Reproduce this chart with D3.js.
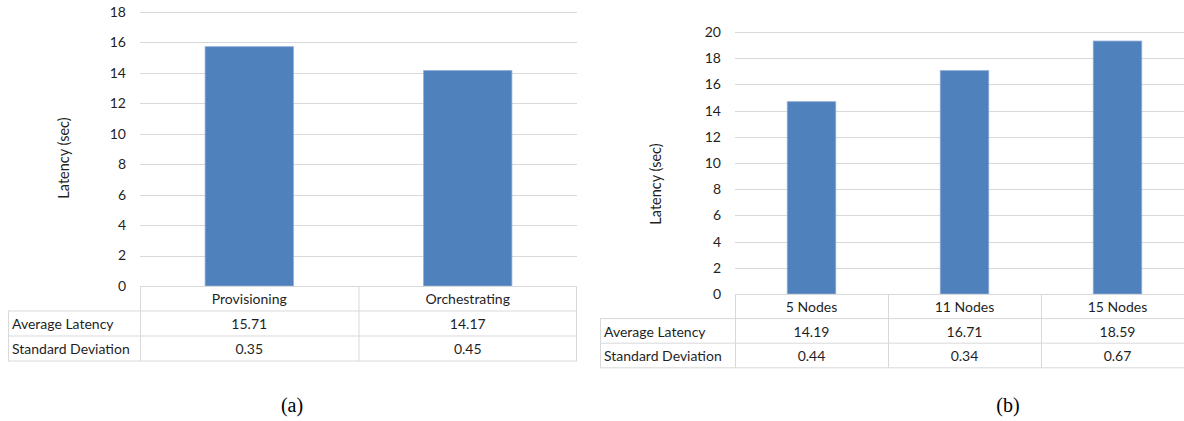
<!DOCTYPE html>
<html>
<head>
<meta charset="utf-8">
<script src="https://cdn.jsdelivr.net/npm/d3@7"></script>
<style>
  body { margin: 0; background: #fff; }
  svg { display: block; }
  text { font-family: Lato, "Open Sans", sans-serif; fill: #1f1f1f; }
</style>
</head>
<body>
<div id="chart"></div>
<script>
var WIDTH = 1184;
var HEIGHT = 421;

// panel (a)
var catsA = ["Provisioning", "Orchestrating"];
var barsA = [15.72, 14.15];
var avgA = ["15.71", "14.17"];
var stdA = ["0.35", "0.45"];
var ticksA = [0, 2, 4, 6, 8, 10, 12, 14, 16, 18];

// panel (b)
var catsB = ["5 Nodes", "11 Nodes", "15 Nodes"];
var barsB = [14.68, 17.05, 19.31];
var avgB = ["14.19", "16.71", "18.59"];
var stdB = ["0.44", "0.34", "0.67"];
var ticksB = [0, 2, 4, 6, 8, 10, 12, 14, 16, 18, 20];

var rowNames = ["Average Latency", "Standard Deviation"];

var svg = d3.select("#chart").append("svg")
  .attr("width", WIDTH)
  .attr("height", HEIGHT);

drawPanel({
  cats: catsA, bars: barsA, rows: [avgA, stdA], ticks: ticksA,
  left: 140, right: 577, top: 12, base: 286, rowH: 25,
  tableLeft: 8, tickX: 126, titleX: 64, titleY: 158,
  barFrac: 0.404, caption: "(a)", capX: 292
});

drawPanel({
  cats: catsB, bars: barsB, rows: [avgB, stdB], ticks: ticksB,
  left: 735, right: 1194, top: 32, base: 294, rowH: 24.6,
  tableLeft: 600, tickX: 721, titleX: 656, titleY: 184,
  barFrac: 0.317, caption: "(b)", capX: 1008
});

function drawPanel(p) {
  var g = svg.append("g");
  var maxT = p.ticks[p.ticks.length - 1];

  var x = d3.scaleBand().domain(p.cats).range([p.left, p.right]).padding(0);
  var y = d3.scaleLinear().domain([0, maxT]).range([p.base, p.top]);

  // gridlines
  g.selectAll(".grid")
    .data(p.ticks.filter(function(t) { return t > 0; }))
    .enter().append("line")
    .attr("x1", p.left).attr("x2", p.right)
    .attr("y1", function(d) { return Math.round(y(d)) + 0.5; })
    .attr("y2", function(d) { return Math.round(y(d)) + 0.5; })
    .attr("stroke", "#d9d9d9")
    .attr("stroke-width", 1);

  // tick labels
  g.selectAll(".tick")
    .data(p.ticks)
    .enter().append("text")
    .attr("x", p.tickX)
    .attr("y", function(d) { return y(d); })
    .attr("dy", "0.35em")
    .attr("text-anchor", "end")
    .style("font-size", "14px")
    .text(function(d) { return d; });

  // bars
  var bw = x.bandwidth() * p.barFrac;
  g.selectAll(".bar")
    .data(p.bars)
    .enter().append("rect")
    .attr("x", function(d, i) { return x(p.cats[i]) + (x.bandwidth() - bw) / 2; })
    .attr("y", function(d) { return y(d); })
    .attr("width", bw)
    .attr("height", function(d) { return y(0) - y(d); })
    .attr("fill", "#4f81bd")
    .attr("stroke", "#8eaad6")
    .attr("stroke-width", 0.8);

  // axis title
  g.append("text")
    .attr("transform", "translate(" + p.titleX + "," + p.titleY + ") rotate(-90)")
    .attr("text-anchor", "middle")
    .attr("dy", "0.35em")
    .style("font-size", "14.5px")
    .text("Latency (sec)");

  // data table
  var tb = g.append("g");
  var line = function(x1, y1, x2, y2) {
    tb.append("line")
      .attr("x1", x1).attr("y1", y1).attr("x2", x2).attr("y2", y2)
      .attr("stroke", "#d9d9d9").attr("stroke-width", 1);
  };
  var yRow = function(i) { return p.base + i * p.rowH; };
  var bottom = yRow(3);

  line(p.left, p.base + 0.5, p.right, p.base + 0.5);
  line(p.tableLeft, yRow(1), p.right, yRow(1));
  line(p.tableLeft, yRow(2), p.right, yRow(2));
  line(p.tableLeft, bottom, p.right, bottom);
  line(p.tableLeft + 0.5, yRow(1), p.tableLeft + 0.5, bottom);
  p.cats.forEach(function(c) {
    line(x(c) + 0.5, p.base, x(c) + 0.5, bottom);
  });
  line(p.right - 0.5, p.base, p.right - 0.5, bottom);

  tb.selectAll(".hdr")
    .data(p.cats)
    .enter().append("text")
    .attr("x", function(d) { return x(d) + x.bandwidth() / 2; })
    .attr("y", yRow(0) + p.rowH / 2 + 1)
    .attr("dy", "0.35em")
    .attr("text-anchor", "middle")
    .style("font-size", "14px")
    .text(function(d) { return d; });

  rowNames.forEach(function(name, r) {
    var cy = yRow(r + 1) + p.rowH / 2 + 1;
    tb.append("text")
      .attr("x", p.tableLeft + 4)
      .attr("y", cy)
      .attr("dy", "0.35em")
      .style("font-size", "14px")
      .text(name);
    tb.selectAll(".v" + r)
      .data(p.rows[r])
      .enter().append("text")
      .attr("x", function(d, i) { return x(p.cats[i]) + x.bandwidth() / 2; })
      .attr("y", cy)
      .attr("dy", "0.35em")
      .attr("text-anchor", "middle")
      .style("font-size", "14px")
      .text(function(d) { return d; });
  });

  // caption
  svg.append("text")
    .attr("x", p.capX)
    .attr("y", 412)
    .attr("text-anchor", "middle")
    .style("font-family", "'Liberation Serif', 'DejaVu Serif', serif")
    .style("font-size", "20px")
    .style("fill", "#000")
    .text(p.caption);
}
</script>
</body>
</html>
